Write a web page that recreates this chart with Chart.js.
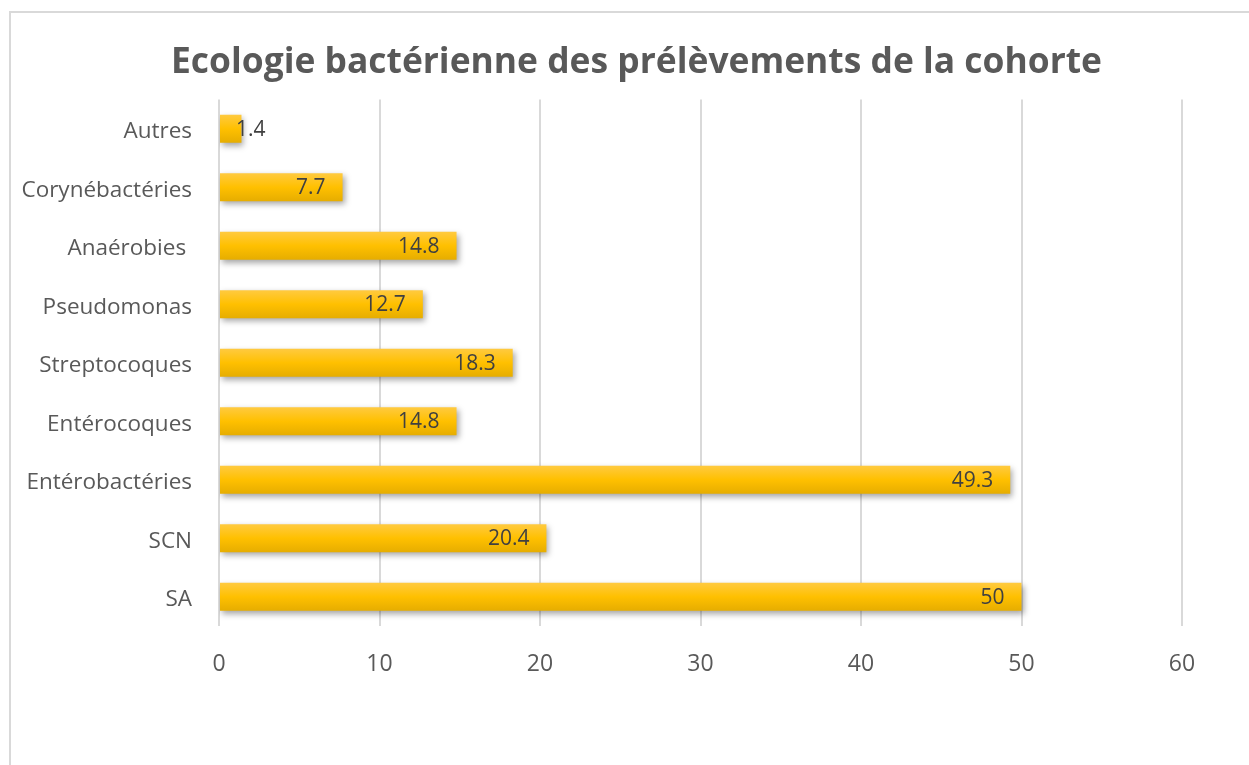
<!DOCTYPE html>
<html>
<head>
<meta charset="utf-8">
<script src="https://cdn.jsdelivr.net/npm/chart.js@4"></script>
<style>
  body { margin: 0; background: #fff; }
  #frame { position: absolute; left: 9px; top: 11px; width: 1260px; height: 780px;
           border-left: 2px solid #d9d9d9; border-top: 2px solid #d9d9d9; }
  #wrap { position: absolute; left: 0; top: 0; width: 1249px; height: 765px; }
</style>
</head>
<body>
<div id="frame"></div>
<div id="wrap"><canvas id="myChart"></canvas></div>
<script>
// categories top to bottom, as in the picture
const categories = ["Autres", "Corynébactéries", "Anaérobies ", "Pseudomonas", "Streptocoques",
  "Entérocoques", "Entérobactéries", "SCN", "SA"];
const values = [1.4, 7.7, 14.8, 12.7, 18.3, 14.8, 49.3, 20.4, 50];
const xTicks = [0, 10, 20, 30, 40, 50, 60];

const FONT = "'Open Sans', sans-serif";
const BAR_H = 28;

// gradient per bar, worked out from the category scale
function barFill(c) {
  const chart = c.chart;
  const y = chart.scales.y ? chart.scales.y.getPixelForValue(c.dataIndex) : null;
  if (y == null || isNaN(y)) return "#ffc000";
  const g = chart.ctx.createLinearGradient(0, y - BAR_H / 2, 0, y + BAR_H / 2);
  g.addColorStop(0, "#ffca40");
  g.addColorStop(0.5, "#ffc000");
  g.addColorStop(1, "#e6ad00");
  return g;
}

const shadowPlugin = {
  id: "shadow",
  // nudge the title a bit to the right, like the original
  afterLayout(chart) {
    if (chart.titleBlock) chart.titleBlock.left += 24;
  },
  beforeDatasetsDraw(chart) {
    const ctx = chart.ctx;
    ctx.save();
    ctx.shadowColor = "rgba(0,0,0,0.35)";
    ctx.shadowBlur = 6;
    ctx.shadowOffsetX = 2;
    ctx.shadowOffsetY = 3;
  },
  afterDatasetsDraw(chart) {
    chart.ctx.restore();
  }
};

// value labels at the inside end of each bar
const labelPlugin = {
  id: "barLabels",
  afterDatasetsDraw(chart) {
    const ctx = chart.ctx;
    const meta = chart.getDatasetMeta(0);
    ctx.save();
    ctx.font = "21px " + FONT;
    ctx.fillStyle = "#404040";
    ctx.textBaseline = "middle";
    meta.data.forEach((bar, i) => {
      const txt = String(values[i]);
      const w = ctx.measureText(txt).width;
      let x = bar.x - 17 - w;
      if (x < bar.base) x = bar.base + 16;
      ctx.textAlign = "left";
      ctx.fillText(txt, x, bar.y + 1);
    });
    ctx.restore();
  }
};

const ctx = document.getElementById("myChart");
new Chart(ctx, {
  type: "bar",
  data: {
    labels: categories,
    datasets: [{
      data: values,
      backgroundColor: barFill,
      borderWidth: 0,
      barPercentage: 0.8,
      categoryPercentage: 0.6
    }]
  },
  options: {
    indexAxis: "y",
    responsive: true,
    maintainAspectRatio: false,
    animation: false,
    layout: { padding: { left: 0, right: 0, top: 0, bottom: 0 } },
    plugins: {
      legend: { display: false },
      tooltip: { enabled: false },
      title: {
        display: true,
        text: "Ecologie bactérienne des prélèvements de la cohorte",
        color: "#595959",
        font: { family: FONT, size: 35.4, weight: "bold" },
        padding: { top: 42, bottom: 15 }
      }
    },
    scales: {
      x: {
        min: 0,
        max: 60,
        afterBuildTicks: s => { s.ticks = xTicks.map(v => ({ value: v })); },
        afterFit: s => { s.height = 139; },
        grid: { color: "#d9d9d9", lineWidth: 2, drawTicks: false },
        border: { display: false },
        ticks: { color: "#595959", font: { family: FONT, size: 23 }, padding: 25 }
      },
      y: {
        afterFit: s => { s.width = 219; },
        grid: { display: false, drawTicks: false },
        border: { display: false },
        ticks: { color: "#595959", font: { family: FONT, size: 22.5 }, padding: 27, labelOffset: 3 }
      },
      // empty axis on the right, only keeps room beside the plot
      yRight: {
        type: "category",
        labels: categories,
        position: "right",
        afterFit: s => { s.width = 67; },
        grid: { display: false, drawTicks: false },
        border: { display: false },
        ticks: { display: false }
      }
    }
  },
  plugins: [shadowPlugin, labelPlugin]
});
</script>
</body>
</html>
